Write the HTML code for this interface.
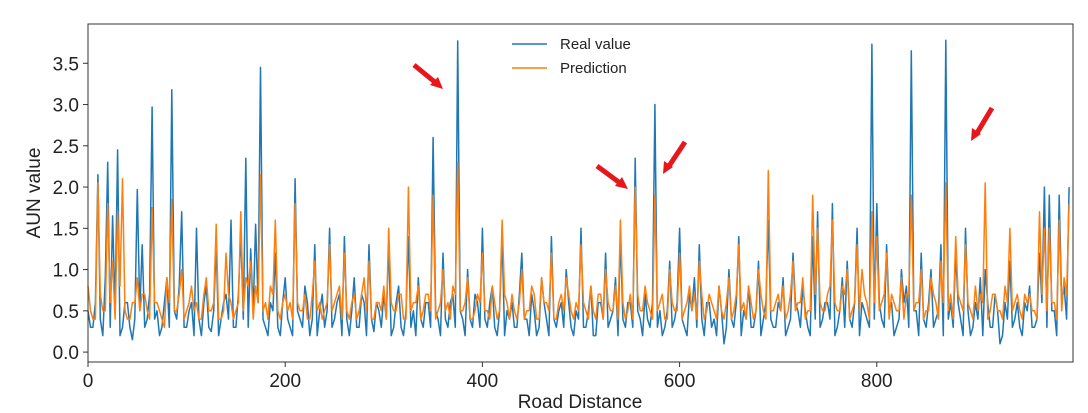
<!DOCTYPE html>
<html><head><meta charset="utf-8"><style>
body{margin:0;background:#fff}
svg{display:block;font-family:"Liberation Sans",sans-serif}
</style></head><body>
<svg id="chart" width="1088" height="413" viewBox="0 0 1088 413"></svg>
<script>
const xStep = 5;
const realValues = [0.5,0.3,2.15,0.2,2.3,1.65,2.45,0.3,0.6,0.15,1.97,1.3,0.4,2.97,0.5,0.3,0.9,3.18,0.4,1.7,
0.3,0.6,1.5,0.2,0.8,0.25,1.3,0.4,0.7,1.6,0.3,1.45,2.35,1.25,1.55,3.45,0.3,0.6,1.2,0.2,
0.9,0.3,2.1,0.4,0.8,0.2,1.3,0.5,0.3,1.5,0.4,0.7,1.4,0.2,0.9,0.3,0.6,1.3,0.25,0.5,
0.7,1.3,0.3,0.8,0.2,1.4,0.5,0.9,0.3,0.6,2.6,0.4,1.2,0.3,0.7,3.77,0.4,1.0,0.3,0.6,
1.5,0.3,0.8,0.2,1.4,0.5,0.6,0.3,1.2,0.4,0.7,0.2,0.9,0.4,1.4,0.3,0.6,1.0,0.3,0.5,
1.5,0.3,0.8,0.2,0.6,1.2,0.4,0.9,1.4,0.3,0.6,2.35,0.4,0.7,0.3,3.0,0.5,0.3,1.1,0.4,
1.5,0.3,0.7,0.9,1.3,0.2,0.6,0.4,0.8,0.1,1.0,0.3,1.4,0.5,0.8,0.3,1.1,0.4,1.6,0.3,
0.6,0.9,0.3,1.2,0.5,0.8,0.3,1.4,1.7,0.4,0.6,1.8,0.3,0.9,1.1,0.3,1.5,0.6,0.4,3.73,
1.8,0.4,1.3,0.6,0.3,1.0,0.8,3.65,0.5,1.2,0.3,1.0,0.4,1.3,3.78,0.6,1.2,0.4,1.5,0.2,
0.6,0.9,1.0,0.3,0.7,0.1,0.6,1.1,0.4,0.3,0.6,0.8,0.3,1.2,2.0,1.9,0.5,1.9,0.8,2.0];
const realValuesMid = [0.3,0.6,0.4,0.9,0.3,0.5,0.2,0.6,0.3,0.4,0.5,0.3,0.7,0.4,0.2,0.6,0.3,0.5,0.8,0.3,
0.5,0.2,0.4,0.6,0.3,0.5,0.2,0.6,0.4,0.3,0.7,0.4,0.3,0.5,0.6,0.4,0.2,0.5,0.3,0.6,
0.4,0.2,0.5,0.3,0.6,0.4,0.2,0.7,0.5,0.3,0.6,0.2,0.4,0.5,0.3,0.7,0.2,0.4,0.6,0.3,
0.4,0.2,0.6,0.3,0.5,0.3,0.2,0.4,0.6,0.3,0.5,0.2,0.4,0.6,0.3,0.5,0.2,0.4,0.7,0.3,
0.4,0.6,0.3,0.5,0.2,0.4,0.3,0.7,0.4,0.2,0.5,0.3,0.6,0.2,0.4,0.5,0.3,0.6,0.2,0.4,
0.3,0.5,0.2,0.6,0.4,0.3,0.5,0.2,0.4,0.6,0.3,0.5,0.2,0.4,0.6,0.3,0.2,0.5,0.3,0.6,
0.4,0.2,0.5,0.3,0.4,0.6,0.3,0.2,0.5,0.3,0.4,0.6,0.2,0.4,0.3,0.5,0.2,0.6,0.4,0.3,
0.5,0.2,0.4,0.6,0.3,0.5,0.2,0.4,0.3,0.6,0.4,0.2,0.5,0.3,0.4,0.6,0.2,0.5,0.3,0.4,
0.6,0.3,0.5,0.2,0.4,0.6,0.3,0.5,0.2,0.4,0.6,0.3,0.5,0.2,0.4,0.3,0.6,0.2,0.5,0.3,
0.4,0.2,0.6,0.3,0.5,0.2,0.4,0.3,0.6,0.2,0.5,0.3,0.4,0.6,0.3,0.5,0.2,0.6,0.4,0.3];
const predValues = [0.8,0.4,2.05,0.5,1.8,1.1,1.7,2.1,0.4,0.6,0.9,0.7,0.5,1.75,0.6,0.4,0.9,1.85,0.5,1.0,
0.5,0.8,0.6,0.4,0.9,0.5,1.55,0.4,1.2,0.6,0.5,1.7,0.9,1.1,0.8,2.15,0.6,0.8,1.6,0.4,
0.7,0.6,1.8,0.5,0.7,0.4,1.1,0.6,0.5,1.3,0.6,0.8,1.2,0.4,0.7,0.5,0.9,1.1,0.4,0.6,
0.8,1.5,0.5,0.7,0.4,2.0,0.6,0.8,0.5,0.7,1.9,0.5,1.0,0.6,0.8,2.3,0.5,0.9,0.4,0.7,
1.2,0.5,0.8,0.4,1.6,0.6,0.7,0.4,1.0,0.5,0.8,0.4,0.9,0.6,1.2,0.4,0.7,0.9,0.5,0.6,
1.3,0.5,0.8,0.4,0.7,1.0,0.5,0.8,1.6,0.4,0.7,2.0,0.5,0.8,0.5,1.9,0.6,0.4,1.0,0.5,
1.2,0.5,0.8,0.7,1.1,0.4,0.7,0.5,0.8,0.4,0.9,0.5,1.3,0.6,0.8,0.4,1.0,0.5,2.2,0.5,
0.7,0.8,0.5,1.1,0.6,0.9,0.5,1.9,1.5,0.5,0.7,1.6,0.5,0.8,1.0,0.5,1.3,1.0,0.6,1.7,
1.4,0.6,1.2,0.7,0.5,0.9,0.7,1.9,0.6,1.0,0.5,0.9,0.6,1.1,2.05,0.7,1.4,0.6,1.3,0.5,
0.8,0.7,2.05,0.5,0.7,0.5,0.8,1.5,0.6,0.5,0.7,0.7,0.5,1.7,1.5,1.5,0.6,1.6,0.9,1.8];
const predValuesMid = [0.5,0.4,0.7,0.5,0.6,0.4,0.8,0.5,0.4,0.6,0.5,0.7,0.4,0.6,0.5,0.3,0.6,0.5,0.7,0.4,
0.6,0.5,0.4,0.7,0.5,0.6,0.4,0.5,0.7,0.4,0.6,0.5,0.8,0.4,0.6,0.5,0.4,0.7,0.5,0.6,
0.5,0.4,0.6,0.5,0.4,0.7,0.5,0.4,0.6,0.5,0.7,0.4,0.5,0.6,0.4,0.7,0.5,0.4,0.6,0.5,
0.4,0.6,0.5,0.7,0.4,0.5,0.6,0.4,0.7,0.5,0.4,0.6,0.5,0.4,0.7,0.5,0.6,0.4,0.5,0.6,
0.5,0.4,0.6,0.5,0.7,0.4,0.5,0.6,0.4,0.5,0.7,0.4,0.6,0.5,0.4,0.6,0.5,0.7,0.4,0.5,
0.6,0.4,0.5,0.7,0.4,0.6,0.5,0.4,0.6,0.5,0.4,0.7,0.5,0.6,0.4,0.5,0.7,0.4,0.6,0.5,
0.4,0.6,0.5,0.4,0.7,0.5,0.6,0.4,0.5,0.6,0.4,0.7,0.5,0.4,0.6,0.5,0.7,0.4,0.5,0.6,
0.5,0.4,0.7,0.5,0.6,0.4,0.5,0.7,0.6,0.5,0.8,0.6,0.5,0.7,0.4,0.6,0.5,0.7,0.4,0.6,
0.5,0.7,0.4,0.6,0.5,0.4,0.7,0.5,0.6,0.4,0.5,0.7,0.4,0.6,0.5,0.4,0.7,0.5,0.6,0.4,
0.5,0.6,0.4,0.7,0.5,0.4,0.6,0.5,0.7,0.4,0.6,0.5,0.4,0.7,0.5,0.6,0.4,0.5,0.7,0.6];
const xTicks = [0,200,400,600,800];
const yTicks = [0.0,0.5,1.0,1.5,2.0,2.5,3.0,3.5];
const yTickLabels = ["0.0","0.5","1.0","1.5","2.0","2.5","3.0","3.5"];

const L=88,R=1073,T=24,B=362;
const xMin=0,xMax=999,yMin=-0.12,yMax=3.976;
const sx=v=>L+(v-xMin)/(xMax-xMin)*(R-L);
const sy=v=>B-(v-yMin)/(yMax-yMin)*(B-T);
const svg=document.getElementById('chart');
const NS='http://www.w3.org/2000/svg';
function mk(tag,attrs){const e=document.createElementNS(NS,tag);for(const k in attrs)e.setAttribute(k,attrs[k]);svg.appendChild(e);return e;}

function series(main,mid,color,name){
  const pts=[];
  main.forEach((v,i)=>{
    pts.push(sx(i*xStep).toFixed(1)+','+sy(v).toFixed(1));
    if(i<main.length-1 && mid[i]!==undefined) pts.push(sx(i*xStep+xStep/2).toFixed(1)+','+sy(mid[i]).toFixed(1));
  });
  const p=mk('polyline',{points:pts.join(' '),fill:'none',stroke:color,'stroke-width':1.5,'stroke-linejoin':'round'});
  
  
}
series(realValues,realValuesMid,'#1f77b4','real-value-line');
series(predValues,predValuesMid,'#ff7f0e','prediction-line');

const frame=mk('rect',{x:L,y:T,width:R-L,height:B-T,fill:'none',stroke:'#333','stroke-width':1});



xTicks.forEach(t=>{
  const x=sx(t);
  const tk=mk('line',{x1:x,x2:x,y1:B,y2:B+5,stroke:'#333'});
  
  
  const tx=mk('text',{x:x,y:B+25,'font-size':19,'text-anchor':'middle',fill:'#222'});
  tx.textContent=t;
  
  
});
yTicks.forEach((t,i)=>{
  const y=sy(t);
  const tk=mk('line',{x1:L-5,x2:L,y1:y,y2:y,stroke:'#333'});
  
  
  const tx=mk('text',{x:L-9,y:y+7,'font-size':19,'text-anchor':'end',fill:'#222'});
  tx.textContent=yTickLabels[i];
  
  
});
</script>
<svg style="position:absolute;left:0;top:0" width="1088" height="413">
  <text x="580" y="408" font-size="19" text-anchor="middle" fill="#222" font-family="Liberation Sans,sans-serif">Road Distance</text>
  <text transform="translate(40,193) rotate(-90)" font-size="19" text-anchor="middle" fill="#222" font-family="Liberation Sans,sans-serif">AUN value</text>
  <g font-family="Liberation Sans,sans-serif" font-size="15" fill="#222">
    <line x1="512" x2="547" y1="44" y2="44" stroke="#1f77b4" stroke-width="1.5"/>
    <text x="560" y="49">Real value</text>
    <line x1="512" x2="547" y1="68" y2="68" stroke="#ff7f0e" stroke-width="1.5"/>
    <text x="560" y="73">Prediction</text>
  </g>
  <g stroke="#e8161b" stroke-width="5" fill="#e8161b">
    <line x1="414" y1="65" x2="436" y2="83"/>
    <polygon points="443,89 430,85 438,77" stroke="none"/>
    <line x1="597" y1="166" x2="620" y2="183"/>
    <polygon points="628,189 615,186 622,177" stroke="none"/>
    <line x1="685" y1="142" x2="669" y2="166"/>
    <polygon points="663,174 664,161 673,167" stroke="none"/>
    <line x1="992" y1="108" x2="977" y2="133"/>
    <polygon points="971,141 972,128 981,134" stroke="none"/>
  </g>
</svg>
</body></html>
